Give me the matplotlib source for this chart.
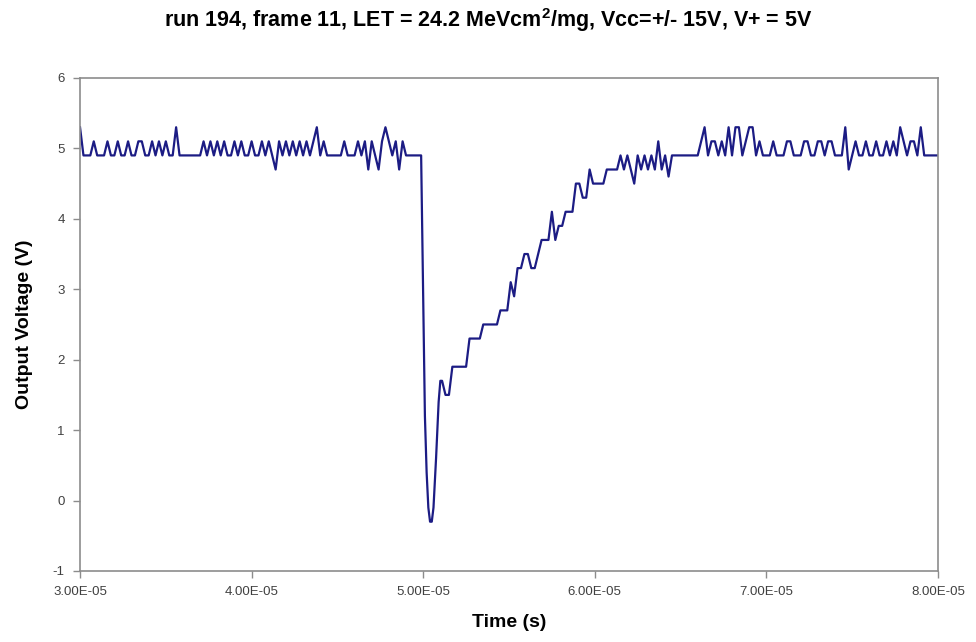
import matplotlib
matplotlib.use("Agg")
import matplotlib.pyplot as plt
import numpy as np

# ---- data (time in microseconds, output voltage in volts) ----
time_us = [
    30.0, 30.2, 30.4, 30.6, 30.8, 31.0, 31.2, 31.4, 31.6, 31.8,
    32.0, 32.2, 32.4, 32.6, 32.8, 33.0, 33.2, 33.4, 33.6, 33.8,
    34.0, 34.2, 34.4, 34.6, 34.8, 35.0, 35.2, 35.4, 35.6, 35.8,
    36.0, 36.2, 36.4, 36.6, 36.8, 37.0, 37.2, 37.4, 37.6, 37.8,
    38.0, 38.2, 38.4, 38.6, 38.8, 39.0, 39.2, 39.4, 39.6, 39.8,
    40.0, 40.2, 40.4, 40.6, 40.8, 41.0, 41.2, 41.4, 41.6, 41.8,
    42.0, 42.2, 42.4, 42.6, 42.8, 43.0, 43.2, 43.4, 43.6, 43.8,
    44.0, 44.2, 44.4, 44.6, 44.8, 45.0, 45.2, 45.4, 45.6, 45.8,
    46.0, 46.2, 46.4, 46.6, 46.8, 47.0, 47.2, 47.4, 47.6, 47.8,
    48.0, 48.2, 48.4, 48.6, 48.8, 49.0, 49.2, 49.4, 49.6, 49.8,
    49.88, 49.95, 50.0, 50.1, 50.2, 50.3, 50.4, 50.5, 50.6, 50.75,
    50.9, 51.0, 51.1, 51.3, 51.5, 51.7, 51.9, 52.1, 52.3, 52.5,
    52.7, 52.9, 53.1, 53.3, 53.5, 53.7, 53.9, 54.1, 54.3, 54.5,
    54.7, 54.9, 55.1, 55.3, 55.5, 55.7, 55.9, 56.1, 56.3, 56.5,
    56.7, 56.9, 57.1, 57.3, 57.5, 57.7, 57.9, 58.1, 58.3, 58.5,
    58.7, 58.9, 59.1, 59.3, 59.5, 59.7, 59.9, 60.1, 60.3, 60.5,
    60.7, 60.9, 61.1, 61.3, 61.5, 61.7, 61.9, 62.1, 62.3, 62.5,
    62.7, 62.9, 63.1, 63.3, 63.5, 63.7, 63.9, 64.1, 64.3, 64.5,
    64.7, 64.9, 65.1, 65.3, 65.5, 65.7, 65.9,
    66.0, 66.2, 66.4, 66.6, 66.8, 67.0, 67.2, 67.4, 67.6, 67.8,
    68.0, 68.2, 68.4, 68.6, 68.8, 69.0, 69.2, 69.4, 69.6, 69.8,
    70.0, 70.2, 70.4, 70.6, 70.8, 71.0, 71.2, 71.4, 71.6, 71.8,
    72.0, 72.2, 72.4, 72.6, 72.8, 73.0, 73.2, 73.4, 73.6, 73.8,
    74.0, 74.2, 74.4, 74.6, 74.8, 75.0, 75.2, 75.4, 75.6, 75.8,
    76.0, 76.2, 76.4, 76.6, 76.8, 77.0, 77.2, 77.4, 77.6, 77.8,
    78.0, 78.2, 78.4, 78.6, 78.8, 79.0, 79.2, 79.4, 79.6, 79.8,
    80.0,
]

voltage = [
    5.3, 4.9, 4.9, 4.9, 5.1, 4.9, 4.9, 4.9, 5.1, 4.9,
    4.9, 5.1, 4.9, 4.9, 5.1, 4.9, 4.9, 5.1, 5.1, 4.9,
    4.9, 5.1, 4.9, 5.1, 4.9, 5.1, 4.9, 4.9, 5.3, 4.9,
    4.9, 4.9, 4.9, 4.9, 4.9, 4.9, 5.1, 4.9, 5.1, 4.9,
    5.1, 4.9, 5.1, 4.9, 4.9, 5.1, 4.9, 5.1, 4.9, 4.9,
    5.1, 4.9, 4.9, 5.1, 4.9, 5.1, 4.9, 4.7, 5.1, 4.9,
    5.1, 4.9, 5.1, 4.9, 5.1, 4.9, 5.1, 4.9, 5.1, 5.3,
    4.9, 5.1, 4.9, 4.9, 4.9, 4.9, 4.9, 5.1, 4.9, 4.9,
    4.9, 5.1, 4.9, 5.1, 4.7, 5.1, 4.9, 4.7, 5.1, 5.3,
    5.1, 4.9, 5.1, 4.7, 5.1, 4.9, 4.9, 4.9, 4.9, 4.9,
    4.9, 3.7, 2.8, 1.2, 0.4, -0.1, -0.3, -0.3, -0.1, 0.6,
    1.4, 1.7, 1.7, 1.5, 1.5, 1.9, 1.9, 1.9, 1.9, 1.9,
    2.3, 2.3, 2.3, 2.3, 2.5, 2.5, 2.5, 2.5, 2.5, 2.7,
    2.7, 2.7, 3.1, 2.9, 3.3, 3.3, 3.5, 3.5, 3.3, 3.3,
    3.5, 3.7, 3.7, 3.7, 4.1, 3.7, 3.9, 3.9, 4.1, 4.1,
    4.1, 4.5, 4.5, 4.3, 4.3, 4.7, 4.5, 4.5, 4.5, 4.5,
    4.7, 4.7, 4.7, 4.7, 4.9, 4.7, 4.9, 4.7, 4.5, 4.9,
    4.7, 4.9, 4.7, 4.9, 4.7, 5.1, 4.7, 4.9, 4.6, 4.9,
    4.9, 4.9, 4.9, 4.9, 4.9, 4.9, 4.9,
    4.9, 5.1, 5.3, 4.9, 5.1, 5.1, 4.9, 5.1, 4.9, 5.3,
    4.9, 5.3, 5.3, 4.9, 5.1, 5.3, 5.3, 4.9, 5.1, 4.9,
    4.9, 4.9, 5.1, 4.9, 4.9, 4.9, 5.1, 5.1, 4.9, 4.9,
    4.9, 5.1, 5.1, 4.9, 4.9, 5.1, 5.1, 4.9, 5.1, 5.1,
    4.9, 4.9, 4.9, 5.3, 4.7, 4.9, 5.1, 4.9, 4.9, 5.1,
    4.9, 4.9, 5.1, 4.9, 4.9, 5.1, 4.9, 5.1, 4.9, 5.3,
    5.1, 4.9, 5.1, 5.1, 4.9, 5.3, 4.9, 4.9, 4.9, 4.9,
    4.9,
]

x_ticks = [3.0e-5, 4.0e-5, 5.0e-5, 6.0e-5, 7.0e-5, 8.0e-5]
x_tick_labels = ["3.00E-05", "4.00E-05", "5.00E-05", "6.00E-05", "7.00E-05", "8.00E-05"]
y_ticks = [-1, 0, 1, 2, 3, 4, 5, 6]
y_tick_labels = ["-1", "0", "1", "2", "3", "4", "5", "6"]

title = "run 194, frame 11, LET = 24.2 MeVcm$^{2}$/mg, Vcc=+/- 15V, V+ = 5V"

# ---- figure ----
plt.rcParams["font.family"] = ["Liberation Sans", "DejaVu Sans"]
plt.rcParams["mathtext.fontset"] = "custom"
plt.rcParams["mathtext.rm"] = "Liberation Sans:bold"
plt.rcParams["mathtext.it"] = "Liberation Sans:bold"
plt.rcParams["mathtext.bf"] = "Liberation Sans:bold"

fig = plt.figure(figsize=(9.76, 6.42), dpi=100)
ax = fig.add_axes([0.082, 0.1106, 0.879, 0.768])

t_sec = np.array(time_us) * 1e-6
ax.plot(t_sec, voltage, color="#1c1c84", linewidth=1.6, solid_joinstyle="round")

ax.set_xlim(3.0e-5, 8.0e-5)
ax.set_ylim(-1, 6)
ax.set_xticks(x_ticks)
ax.set_xticklabels(x_tick_labels)
ax.set_yticks(y_ticks)
ax.set_yticklabels(y_tick_labels)

for s in ax.spines.values():
    s.set_color("#8c8c8c")
    s.set_linewidth(1.2)

ax.tick_params(axis="both", direction="out", length=5, width=1.0, color="#8c8c8c",
               labelsize=9.5, labelcolor="#404040")
ax.tick_params(axis="x", pad=6)
ax.tick_params(axis="y", pad=6)

ax.set_xlabel("Time (s)", fontsize=14, fontweight="bold", labelpad=11)
ax.set_ylabel("Output Voltage (V)", fontsize=14, fontweight="bold", labelpad=14)
fig.text(0.5, 0.968, title, ha="center", va="center", fontsize=15.5, fontweight="bold")

fig.savefig("out.png", dpi=100, facecolor="white")
